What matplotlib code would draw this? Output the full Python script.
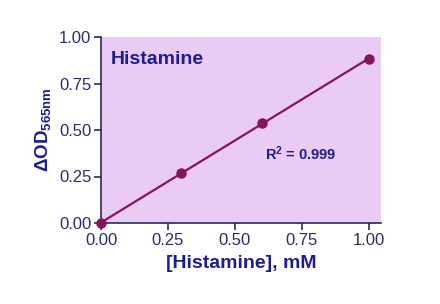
import numpy as np
import matplotlib
matplotlib.use("Agg")
import matplotlib.pyplot as plt

conc = [0.0, 0.3, 0.6, 1.0]
od = [0.0, 0.268, 0.537, 0.882]
xticks = [0.0, 0.25, 0.5, 0.75, 1.0]
yticks = [0.0, 0.25, 0.5, 0.75, 1.0]
title_text = "Histamine"
r2_text = r"R$^\mathbf{2}$ = 0.999"

plt.rcParams['font.family'] = ['Liberation Sans', 'DejaVu Sans']
plt.rcParams['mathtext.fontset'] = 'custom'
plt.rcParams['mathtext.rm'] = 'Liberation Sans'
plt.rcParams['mathtext.bf'] = 'Liberation Sans:bold'
plt.rcParams['mathtext.it'] = 'Liberation Sans:italic'

navy = '#1C1C96'
tickc = '#2B2B70'
maroon = '#86145A'
bg = '#EACBF4'

fig = plt.figure(figsize=(4.4, 3.04), dpi=100)
ax = fig.add_axes([101/440, 1-223/304, (381-101)/440, (223-37)/304])
ax.set_facecolor(bg)

slope, intercept = np.polyfit(conc, od, 1)
xs = np.array([min(conc), max(conc)])
ax.plot(xs, slope*xs + intercept, color=maroon, lw=1.6, zorder=2)
ax.plot(conc, od, 'o', color=maroon, ms=6.5, zorder=3, clip_on=False)

ax.set_xlim(0, 1.045)
ax.set_ylim(0, 1.0)
ax.set_xticks(xticks)
ax.set_yticks(yticks)
ax.set_xticklabels([f"{v:.2f}" for v in xticks])
ax.set_yticklabels([f"{v:.2f}" for v in yticks])

for s in ['top', 'right']:
    ax.spines[s].set_visible(False)
for s in ['left', 'bottom']:
    ax.spines[s].set_color('#2A2A5A')
    ax.spines[s].set_linewidth(1.2)
ax.tick_params(axis='both', direction='out', length=5, width=1.2, color='#2A2A5A',
               labelsize=12, labelcolor=tickc, pad=2)

ax.set_xlabel("[Histamine], mM", fontsize=14, fontweight='bold', color=navy, labelpad=5)
ax.set_ylabel("ΔOD$_\\mathbf{565nm}$", fontsize=13.5, fontweight='bold', color=navy, labelpad=4)

ax.text(0.035, 0.88, title_text, transform=ax.transAxes, fontsize=14, fontweight='bold',
        color=navy, va='center', ha='left')
ax.text(0.585, 0.37, r2_text, transform=ax.transAxes, fontsize=10.5, fontweight='bold',
        color=navy, va='center', ha='left')

fig.savefig("out.png", dpi=100)
